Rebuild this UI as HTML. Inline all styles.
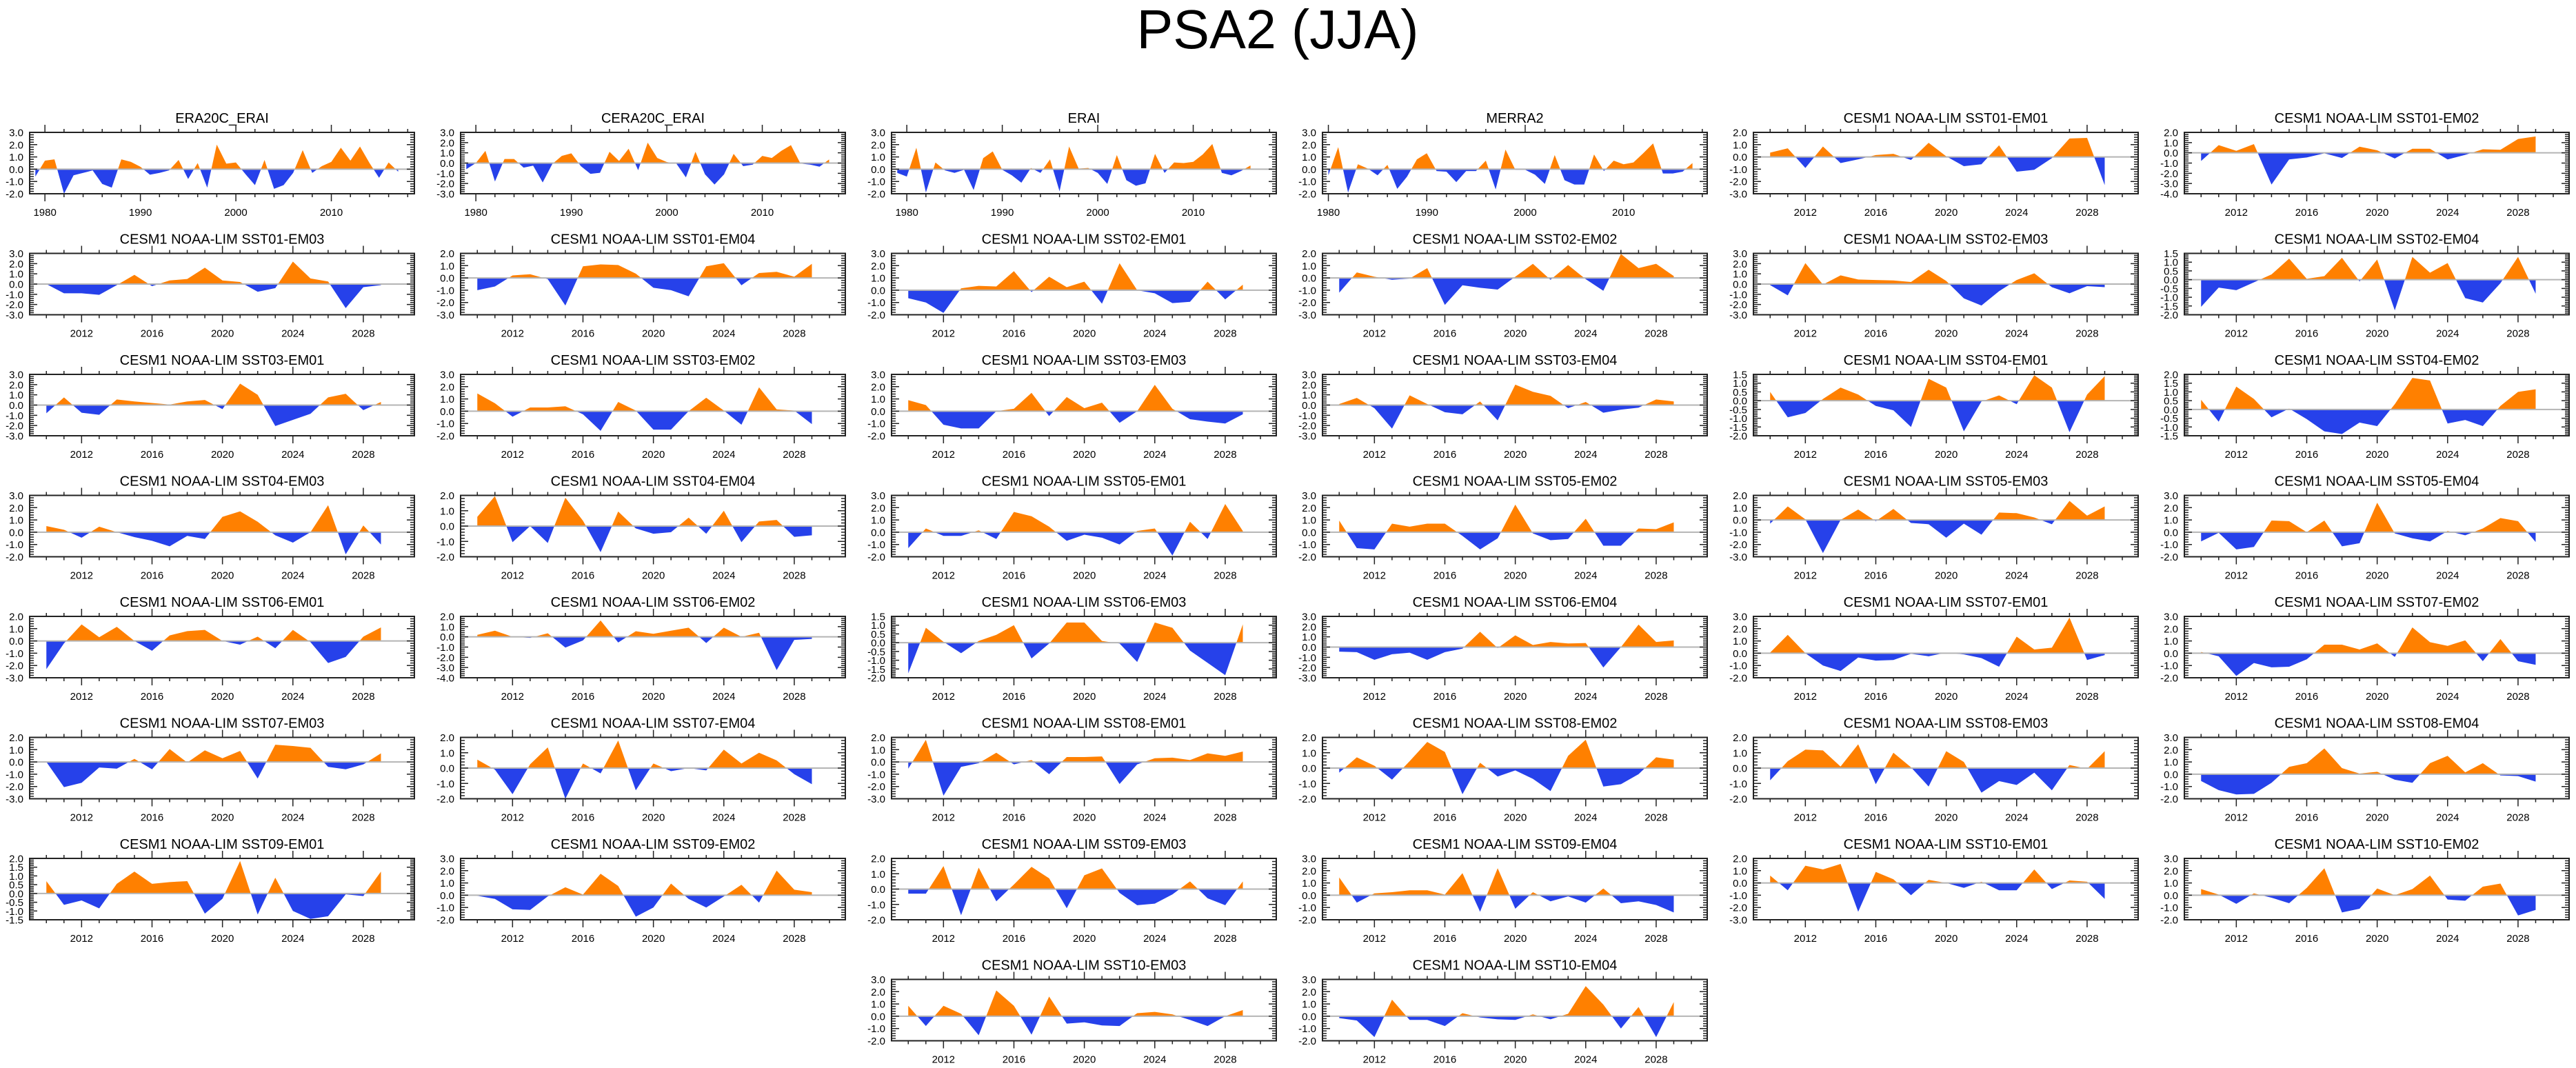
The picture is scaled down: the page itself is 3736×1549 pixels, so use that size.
<!DOCTYPE html>
<html>
<head>
<meta charset="utf-8">
<style>
html,body{margin:0;padding:0;background:#fff;}
svg{display:block;}
text{font-family:"Liberation Sans",Arial,sans-serif;fill:#000;}
</style>
</head>
<body>
<svg id="fig" width="3736" height="1549" viewBox="0 0 3736 1549" xmlns="http://www.w3.org/2000/svg">
<rect x="0" y="0" width="3736" height="1549" fill="#fff"/>
<text x="1853" y="70" font-size="80" text-anchor="middle" textLength="409" lengthAdjust="spacingAndGlyphs">PSA2 (JJA)</text>
</svg>
<script>
// ---- x categories ----
const eraYears = [1979,1980,1981,1982,1983,1984,1985,1986,1987,1988,1989,1990,1991,1992,1993,1994,1995,1996,1997,1998,1999,2000,2001,2002,2003,2004,2005,2006,2007,2008,2009,2010,2011,2012,2013,2014,2015,2016,2017];
const merraYears = [1980,1981,1982,1983,1984,1985,1986,1987,1988,1989,1990,1991,1992,1993,1994,1995,1996,1997,1998,1999,2000,2001,2002,2003,2004,2005,2006,2007,2008,2009,2010,2011,2012,2013,2014,2015,2016,2017];
const simYears = [2010,2011,2012,2013,2014,2015,2016,2017,2018,2019,2020,2021,2022,2023,2024,2025,2026,2027,2028,2029];
const eraTickLabels = [1980,1990,2000,2010];
const simTickLabels = [2012,2016,2020,2024,2028];

// ---- series values ----
const era20cErai = [-0.6,0.7,0.8,-2.0,-0.5,-0.3,-0.1,-1.2,-1.5,0.8,0.6,0.2,-0.45,-0.3,-0.1,0.75,-0.8,0.5,-1.5,2.0,0.45,0.55,-0.4,-1.3,0.75,-1.6,-1.3,-0.3,1.55,-0.3,0.25,0.6,1.75,0.7,1.85,0.5,-0.7,0.55,-0.2];
const cera20cErai = [-0.6,0.0,1.2,-1.8,0.4,0.4,-0.45,-0.25,-1.9,-0.1,0.7,0.95,-0.3,-1.05,-0.95,1.1,0.2,1.4,-0.7,2.0,0.5,0.1,-0.05,-1.4,1.1,-1.1,-2.1,-1.1,0.9,-0.3,-0.15,0.7,0.5,1.2,1.75,-0.05,-0.15,-0.35,0.35];
const erai = [-0.3,-0.6,1.75,-1.9,0.55,-0.1,-0.3,-0.05,-1.7,0.9,1.45,-0.05,-0.5,-1.1,0.1,-0.3,0.8,-1.8,1.85,0.05,0.1,-0.3,-1.2,1.15,-0.9,-1.35,-1.15,1.25,-0.3,0.55,0.5,0.6,1.2,2.05,-0.3,-0.5,-0.15,0.3];
const merra2 = [-0.5,1.8,-1.9,0.4,0.05,-0.5,0.35,-1.6,-0.6,0.8,1.3,-0.15,-0.2,-1.05,-0.15,-0.15,0.7,-1.65,1.6,-0.05,-0.05,-0.45,-1.2,1.15,-0.9,-1.25,-1.25,1.2,-0.15,0.7,0.4,0.55,1.3,2.1,-0.35,-0.35,-0.2,0.5];
const sst01em01 = [0.35,0.7,-0.9,0.85,-0.5,-0.2,0.15,0.25,-0.25,1.15,0.05,-0.75,-0.6,0.95,-1.2,-1.05,-0.1,1.5,1.55,-2.3];
const sst01em02 = [-0.8,0.75,0.2,0.85,-3.1,-0.65,-0.45,-0.05,-0.5,0.6,0.25,-0.55,0.4,0.4,-0.65,-0.2,0.35,0.3,1.35,1.6];
const sst01em03 = [0.0,-0.9,-0.9,-1.05,-0.1,0.9,-0.2,0.35,0.5,1.6,0.35,0.2,-0.75,-0.4,2.2,0.55,0.25,-2.35,-0.3,-0.1];
const sst01em04 = [-1.0,-0.7,0.2,0.3,-0.1,-2.25,0.95,1.1,1.05,0.35,-0.8,-1.0,-1.5,0.95,1.2,-0.6,0.4,0.5,0.1,1.15];
const sst02em01 = [-0.65,-1.0,-1.85,0.15,0.35,0.3,1.55,-0.15,1.1,0.25,0.7,-1.1,2.2,0.0,-0.25,-1.05,-0.95,0.7,-0.75,0.45];
const sst02em02 = [-1.2,0.45,0.1,-0.15,-0.05,0.8,-2.2,-0.6,-0.8,-0.95,0.1,1.15,-0.15,1.05,-0.1,-1.05,1.95,0.8,1.15,0.15];
const sst02em03 = [-0.1,-1.1,2.05,-0.05,0.85,0.45,0.4,0.35,0.2,1.4,0.3,-1.4,-2.1,-0.7,0.4,1.05,-0.3,-0.9,-0.2,-0.3];
const sst02em04 = [-1.55,-0.45,-0.6,-0.15,0.3,1.2,0.05,0.2,1.25,-0.1,1.15,-1.75,1.3,0.4,0.95,-1.05,-1.3,-0.2,1.3,-0.8];
const sst03em01 = [-0.8,0.75,-0.75,-0.95,0.55,0.35,0.2,0.05,0.35,0.5,-0.4,2.1,1.0,-2.05,-1.45,-0.85,0.75,1.1,-0.5,0.3];
const sst03em02 = [1.45,0.65,-0.45,0.3,0.3,0.4,-0.25,-1.6,0.75,0.05,-1.5,-1.5,0.0,1.1,0.05,-1.1,1.95,0.15,0.05,-1.05];
const sst03em03 = [0.9,0.5,-1.1,-1.4,-1.4,0.0,0.2,1.5,-0.4,1.15,0.25,0.7,-0.95,0.0,2.15,0.2,-0.65,-0.85,-1.0,-0.25];
const sst03em04 = [0.1,0.7,-0.3,-2.3,0.95,0.1,-0.7,-0.9,0.35,-1.5,2.0,1.3,0.9,-0.3,0.3,-0.75,-0.45,-0.25,0.55,0.35];
const sst04em01 = [0.5,-0.95,-0.7,0.1,0.75,0.35,-0.3,-0.55,-1.5,1.25,0.75,-1.75,-0.05,0.3,-0.2,1.45,0.75,-1.8,0.35,1.4];
const sst04em02 = [0.55,-0.7,1.3,0.6,-0.45,0.05,-0.55,-1.25,-1.4,-0.75,-0.95,0.3,1.8,1.65,-0.8,-0.6,-0.95,0.2,1.0,1.15];
const sst04em03 = [0.5,0.2,-0.45,0.45,0.0,-0.4,-0.7,-1.15,-0.3,-0.55,1.25,1.7,0.85,-0.25,-0.85,0.0,2.2,-1.8,0.55,-1.0];
const sst04em04 = [0.6,1.95,-1.05,0.0,-1.1,1.85,0.35,-1.7,0.95,-0.15,-0.5,-0.4,0.55,-0.5,1.0,-1.05,0.3,0.4,-0.7,-0.6];
const sst05em01 = [-1.3,0.3,-0.3,-0.3,0.15,-0.55,1.65,1.3,0.45,-0.7,-0.2,-0.45,-1.0,0.1,0.3,-1.9,0.85,-0.55,2.3,0.1];
const sst05em02 = [0.95,-1.3,-1.4,0.7,0.45,0.7,0.7,-0.3,-1.4,-0.5,2.25,-0.1,-0.65,-0.55,1.1,-1.1,-1.1,0.3,0.25,0.8];
const sst05em03 = [-0.3,1.1,0.05,-2.7,0.0,0.85,-0.1,0.9,-0.25,-0.35,-1.45,-0.3,-1.2,0.6,0.55,0.2,-0.35,1.55,0.35,1.1];
const sst05em04 = [-0.75,-0.05,-1.4,-1.2,0.95,0.9,0.0,0.95,-1.15,-0.9,2.4,-0.1,-0.5,-0.75,0.1,-0.25,0.3,1.15,0.9,-0.8];
const sst06em01 = [-2.3,-0.2,1.35,0.3,1.15,0.0,-0.8,0.45,0.8,0.9,0.0,-0.3,0.35,-0.6,0.9,-0.1,-1.8,-1.3,0.35,1.1];
const sst06em02 = [0.2,0.6,0.0,-0.1,0.35,-1.05,-0.35,1.6,-0.55,0.55,0.3,0.6,0.9,-0.6,0.9,0.0,0.4,-3.25,-0.3,-0.2];
const sst06em03 = [-1.75,0.85,0.05,-0.6,0.1,0.45,1.0,-0.9,-0.05,1.15,1.15,0.1,-0.05,-1.1,1.15,0.85,-0.45,-1.15,-1.85,1.05];
const sst06em04 = [-0.45,-0.5,-1.25,-0.7,-0.55,-1.25,-0.5,-0.15,1.5,-0.1,1.15,0.2,0.5,0.35,0.4,-2.0,0.0,2.2,0.5,0.65];
const sst07em01 = [0.05,1.5,0.0,-1.0,-1.45,-0.35,-0.6,-0.55,-0.05,-0.25,0.05,-0.1,-0.4,-1.1,1.35,0.3,0.45,2.9,-0.55,-0.15];
const sst07em02 = [0.1,-0.25,-1.85,-0.8,-1.15,-1.1,-0.5,0.7,0.7,0.3,0.8,-0.3,2.1,0.9,0.6,1.05,-0.65,1.15,-0.65,-0.95];
const sst07em03 = [0.0,-2.05,-1.7,-0.45,-0.55,0.25,-0.6,1.05,-0.05,0.95,0.3,0.9,-1.35,1.4,1.3,1.15,-0.4,-0.6,-0.2,0.7];
const sst07em04 = [0.55,-0.1,-1.7,0.25,1.35,-2.0,0.3,-0.35,1.8,-1.45,0.3,-0.2,0.0,-0.15,1.2,0.3,1.0,0.5,-0.4,-1.05];
const sst08em01 = [-0.55,1.8,-2.75,-0.4,-0.1,0.75,-0.2,0.15,-1.0,0.4,0.4,0.45,-1.8,-0.2,0.3,0.35,0.15,0.7,0.5,0.85];
const sst08em02 = [-0.3,0.7,0.15,-0.75,0.45,1.7,1.05,-1.7,0.35,-0.55,-0.15,-0.7,-1.5,0.8,1.85,-1.2,-1.05,-0.4,0.7,0.55];
const sst08em03 = [-0.8,0.45,1.2,1.15,0.1,1.55,-1.05,1.0,0.05,-1.2,1.1,0.4,-1.6,-0.85,-1.1,-0.3,-1.45,0.2,-0.05,1.1];
const sst08em04 = [-0.55,-1.3,-1.65,-1.6,-0.7,0.6,0.9,2.1,0.5,0.05,0.2,-0.45,-0.7,0.9,1.5,0.15,0.9,-0.1,-0.15,-0.6];
const sst09em01 = [0.7,-0.65,-0.4,-0.85,0.55,1.25,0.55,0.65,0.7,-1.15,-0.3,1.85,-1.2,0.9,-1.0,-1.45,-1.3,-0.05,-0.15,1.25];
const sst09em02 = [-0.05,-0.3,-1.15,-1.2,-0.1,0.65,0.05,1.75,0.75,-1.75,-1.0,0.95,-0.3,-1.0,-0.1,0.85,-0.6,2.0,0.45,0.25];
const sst09em03 = [-0.3,-0.3,1.5,-1.7,1.4,-0.8,0.3,1.45,0.7,-1.25,0.9,1.35,-0.25,-1.05,-0.95,-0.35,0.5,-0.6,-1.05,0.5];
const sst09em04 = [1.45,-0.6,0.15,0.25,0.4,0.4,0.05,1.8,-1.35,2.2,-1.1,0.25,-0.5,-0.1,-0.6,0.55,-0.65,-0.5,-0.8,-1.4];
const sst10em01 = [0.6,-0.6,1.4,1.1,1.55,-2.35,0.9,0.3,-1.0,0.25,0.0,-0.4,0.1,-0.6,-0.6,1.1,-0.5,0.2,0.1,-1.3];
const sst10em02 = [0.5,0.05,-0.7,0.15,-0.2,-0.65,0.6,2.2,-1.4,-1.1,0.55,0.0,0.5,1.6,-0.35,-0.45,0.7,0.95,-1.65,-1.2];
const sst10em03 = [0.85,-0.8,0.85,0.2,-1.55,2.1,0.85,-1.5,1.6,-0.6,-0.5,-0.75,-0.8,0.25,0.35,0.15,-0.3,-0.8,0.0,0.5];
const sst10em04 = [-0.15,-0.35,-1.7,1.35,-0.3,-0.3,-0.8,0.25,-0.1,-0.25,-0.3,0.15,-0.25,0.2,2.45,0.95,-1.0,0.75,-1.7,1.15];

// ---- panel layout (title, series, years, y-range, y-step, x-domain) ----
const panels = [
 ["ERA20C_ERAI", era20cErai, eraYears, -2, 3, 1, 0, 0, "era"],
 ["CERA20C_ERAI", cera20cErai, eraYears, -3, 3, 1, 1, 0, "era"],
 ["ERAI", erai, eraYears, -2, 3, 1, 2, 0, "era"],
 ["MERRA2", merra2, merraYears, -2, 3, 1, 3, 0, "merra"],
 ["CESM1 NOAA-LIM SST01-EM01", sst01em01, simYears, -3, 2, 1, 4, 0, "sim"],
 ["CESM1 NOAA-LIM SST01-EM02", sst01em02, simYears, -4, 2, 1, 5, 0, "sim"],
 ["CESM1 NOAA-LIM SST01-EM03", sst01em03, simYears, -3, 3, 1, 0, 1, "sim"],
 ["CESM1 NOAA-LIM SST01-EM04", sst01em04, simYears, -3, 2, 1, 1, 1, "sim"],
 ["CESM1 NOAA-LIM SST02-EM01", sst02em01, simYears, -2, 3, 1, 2, 1, "sim"],
 ["CESM1 NOAA-LIM SST02-EM02", sst02em02, simYears, -3, 2, 1, 3, 1, "sim"],
 ["CESM1 NOAA-LIM SST02-EM03", sst02em03, simYears, -3, 3, 1, 4, 1, "sim"],
 ["CESM1 NOAA-LIM SST02-EM04", sst02em04, simYears, -2, 1.5, 0.5, 5, 1, "sim"],
 ["CESM1 NOAA-LIM SST03-EM01", sst03em01, simYears, -3, 3, 1, 0, 2, "sim"],
 ["CESM1 NOAA-LIM SST03-EM02", sst03em02, simYears, -2, 3, 1, 1, 2, "sim"],
 ["CESM1 NOAA-LIM SST03-EM03", sst03em03, simYears, -2, 3, 1, 2, 2, "sim"],
 ["CESM1 NOAA-LIM SST03-EM04", sst03em04, simYears, -3, 3, 1, 3, 2, "sim"],
 ["CESM1 NOAA-LIM SST04-EM01", sst04em01, simYears, -2, 1.5, 0.5, 4, 2, "sim"],
 ["CESM1 NOAA-LIM SST04-EM02", sst04em02, simYears, -1.5, 2, 0.5, 5, 2, "sim"],
 ["CESM1 NOAA-LIM SST04-EM03", sst04em03, simYears, -2, 3, 1, 0, 3, "sim"],
 ["CESM1 NOAA-LIM SST04-EM04", sst04em04, simYears, -2, 2, 1, 1, 3, "sim"],
 ["CESM1 NOAA-LIM SST05-EM01", sst05em01, simYears, -2, 3, 1, 2, 3, "sim"],
 ["CESM1 NOAA-LIM SST05-EM02", sst05em02, simYears, -2, 3, 1, 3, 3, "sim"],
 ["CESM1 NOAA-LIM SST05-EM03", sst05em03, simYears, -3, 2, 1, 4, 3, "sim"],
 ["CESM1 NOAA-LIM SST05-EM04", sst05em04, simYears, -2, 3, 1, 5, 3, "sim"],
 ["CESM1 NOAA-LIM SST06-EM01", sst06em01, simYears, -3, 2, 1, 0, 4, "sim"],
 ["CESM1 NOAA-LIM SST06-EM02", sst06em02, simYears, -4, 2, 1, 1, 4, "sim"],
 ["CESM1 NOAA-LIM SST06-EM03", sst06em03, simYears, -2, 1.5, 0.5, 2, 4, "sim"],
 ["CESM1 NOAA-LIM SST06-EM04", sst06em04, simYears, -3, 3, 1, 3, 4, "sim"],
 ["CESM1 NOAA-LIM SST07-EM01", sst07em01, simYears, -2, 3, 1, 4, 4, "sim"],
 ["CESM1 NOAA-LIM SST07-EM02", sst07em02, simYears, -2, 3, 1, 5, 4, "sim"],
 ["CESM1 NOAA-LIM SST07-EM03", sst07em03, simYears, -3, 2, 1, 0, 5, "sim"],
 ["CESM1 NOAA-LIM SST07-EM04", sst07em04, simYears, -2, 2, 1, 1, 5, "sim"],
 ["CESM1 NOAA-LIM SST08-EM01", sst08em01, simYears, -3, 2, 1, 2, 5, "sim"],
 ["CESM1 NOAA-LIM SST08-EM02", sst08em02, simYears, -2, 2, 1, 3, 5, "sim"],
 ["CESM1 NOAA-LIM SST08-EM03", sst08em03, simYears, -2, 2, 1, 4, 5, "sim"],
 ["CESM1 NOAA-LIM SST08-EM04", sst08em04, simYears, -2, 3, 1, 5, 5, "sim"],
 ["CESM1 NOAA-LIM SST09-EM01", sst09em01, simYears, -1.5, 2, 0.5, 0, 6, "sim"],
 ["CESM1 NOAA-LIM SST09-EM02", sst09em02, simYears, -2, 3, 1, 1, 6, "sim"],
 ["CESM1 NOAA-LIM SST09-EM03", sst09em03, simYears, -2, 2, 1, 2, 6, "sim"],
 ["CESM1 NOAA-LIM SST09-EM04", sst09em04, simYears, -2, 3, 1, 3, 6, "sim"],
 ["CESM1 NOAA-LIM SST10-EM01", sst10em01, simYears, -3, 2, 1, 4, 6, "sim"],
 ["CESM1 NOAA-LIM SST10-EM02", sst10em02, simYears, -2, 3, 1, 5, 6, "sim"],
 ["CESM1 NOAA-LIM SST10-EM03", sst10em03, simYears, -2, 3, 1, 2, 7, "sim"],
 ["CESM1 NOAA-LIM SST10-EM04", sst10em04, simYears, -2, 3, 1, 3, 7, "sim"]
];

const NS = "http://www.w3.org/2000/svg";
const svg = document.getElementById("fig");
const domains = {era:[1978.4, 2018.7], merra:[1979.4, 2018.5], sim:[2009.05, 2030.9]};
const ORANGE = "#FF8000", BLUE = "#2641EA", FRAME = "#222";

function el(tag, attrs, parent){
  const e = document.createElementNS(NS, tag);
  for (const k in attrs) e.setAttribute(k, attrs[k]);
  (parent || svg).appendChild(e);
  return e;
}

panels.forEach((p, idx) => {
  const [title, vals, yrs, ymin, ymax, ystep, col, row, kind] = p;
  const L = 43 + 625 * col, T = 192 + 175.5 * row, Wd = 558, H = 89, B = T + H, R = L + Wd;
  const [d0, d1] = domains[kind];
  const xs = v => L + (v - d0) / (d1 - d0) * Wd;
  const ys = v => T + (ymax - v) / (ymax - ymin) * H;
  const g = el("g", {});
  
  

  // title
  const t = el("text", {x: (L + R) / 2, y: T - 14, "font-size": 20, "text-anchor": "middle"}, g);
  t.textContent = title;
  
  

  // fill areas
  const cidA = "ca" + idx, cidB = "cb" + idx;
  const defs = el("defs", {}, g);
  const y0 = ys(0);
  const cpA = el("clipPath", {id: cidA}, defs);
  el("rect", {x: L, y: T, width: Wd, height: y0 - T}, cpA);
  const cpB = el("clipPath", {id: cidB}, defs);
  el("rect", {x: L, y: y0, width: Wd, height: B - y0}, cpB);
  let pts = xs(yrs[0]).toFixed(2) + "," + y0.toFixed(2);
  for (let i = 0; i < vals.length; i++) pts += " " + xs(yrs[i]).toFixed(2) + "," + ys(vals[i]).toFixed(2);
  pts += " " + xs(yrs[vals.length - 1]).toFixed(2) + "," + y0.toFixed(2);
  const pa = el("polygon", {points: pts, fill: ORANGE, "clip-path": "url(#" + cidA + ")"}, g);
  
  
  const pb = el("polygon", {points: pts, fill: BLUE, "clip-path": "url(#" + cidB + ")"}, g);
  
  

  // zero line
  const zl = el("line", {x1: L, x2: R, y1: y0, y2: y0, stroke: "#b4b4b4", "stroke-width": 2}, g);
  
  

  // y ticks
  const nMinor = Math.round((ymax - ymin) / (ystep / 5));
  let tk = "";
  for (let i = 0; i <= nMinor; i++) {
    const v = ymin + i * ystep / 5;
    const y = ys(v).toFixed(2);
    const major = (i % 5 === 0);
    const len = major ? 11 : 6;
    tk += "M" + L + "," + y + "h" + len + "M" + R + "," + y + "h-" + len;
    if (major) {
      const lab = el("text", {x: L - 9, y: ys(v) + 5.5, "font-size": 15, "text-anchor": "end"}, g);
      lab.textContent = (Math.abs(v) < 1e-9 ? 0 : v).toFixed(1);
      
      
    }
  }
  // x ticks
  const minorStep = kind === "sim" ? 1 : 2;
  const majorStep = kind === "sim" ? 4 : 10;
  const labels = kind === "sim" ? simTickLabels : eraTickLabels;
  for (let yv = Math.ceil(d0); yv <= d1; yv++) {
    if (yv % minorStep !== 0) continue;
    const x = xs(yv).toFixed(2);
    const major = (yv % majorStep === 0);
    const len = major ? 11 : 5;
    tk += "M" + x + "," + T + "v-" + len + "M" + x + "," + B + "v" + len;
  }
  labels.forEach(lv => {
    const lab = el("text", {x: xs(lv), y: B + 32, "font-size": 15, "text-anchor": "middle"}, g);
    lab.textContent = lv;
    
    
  });
  const tp = el("path", {d: tk, stroke: FRAME, "stroke-width": 1.5, fill: "none"}, g);
  
  

  // frame
  const fr = el("rect", {x: L, y: T, width: Wd, height: H, fill: "none", stroke: FRAME, "stroke-width": 2}, g);
  
  
});
</script>
</body>
</html>
